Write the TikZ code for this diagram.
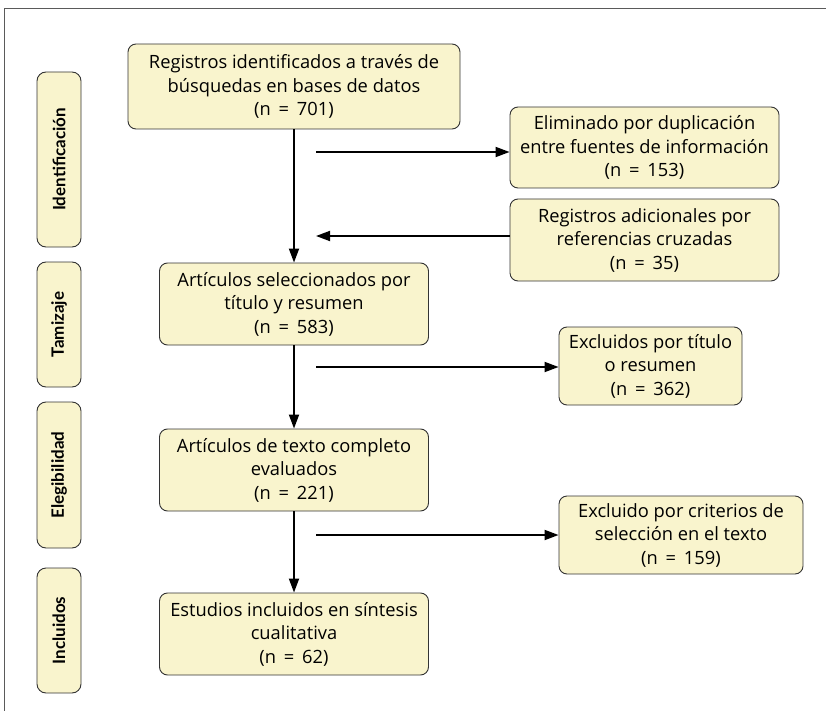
\documentclass[tikz,border=0pt]{standalone}
\usepackage{fontspec}
\setmainfont{Open Sans}
\newfontfamily\phasefont{Lato}
\usetikzlibrary{arrows.meta}
\definecolor{boxfill}{RGB}{249,244,205}
\definecolor{boxline}{RGB}{51,51,51}
\definecolor{framegray}{RGB}{90,90,90}

\begin{document}
\begin{tikzpicture}[x=1pt, y=-1pt,
  stagebox/.style={draw=boxline, fill=boxfill, rounded corners=8pt, line width=0.9pt,
    align=center, font=\fontsize{18.3}{23.5}\selectfont, inner sep=0pt},
  phasebox/.style={draw=boxline, fill=boxfill, rounded corners=9pt, line width=0.9pt,
    rotate=90, minimum height=44pt, inner sep=0pt, font=\phasefont\fontsize{17}{20}\selectfont\bfseries},
  flow/.style={-{Triangle[length=14pt,width=10pt]}, line width=1.8pt}]
\useasboundingbox (0,0) rectangle (826,711);
% Frame
\draw[framegray, line width=1pt] (4,711) -- (4,9) -- (826,9);

% Phase labels
\node[phasebox, minimum width=175pt] (ident) at (59,159.5) {Identificación};
\node[phasebox, minimum width=125pt] (tamiz) at (59,324.5) {Tamizaje};
\node[phasebox, minimum width=146pt] (elegi) at (59,475) {Elegibilidad};
\node[phasebox, minimum width=125pt] (inclu) at (59,630.5) {Incluidos};

% Main column
\node[stagebox, minimum width=332pt, minimum height=85pt] (regs) at (294,86.5) {
Registros identificados a través de\\
búsquedas en bases de datos\\
(n \,=\, 701)
};
\node[stagebox, minimum width=269pt, minimum height=82pt] (selec) at (294,304) {
Artículos seleccionados por\\
título y resumen\\
(n \,=\, 583)
};
\node[stagebox, minimum width=269pt, minimum height=82pt] (compl) at (294,470) {
Artículos de texto completo\\
evaluados\\
(n \,=\, 221)
};
\node[stagebox, minimum width=269pt, minimum height=82pt] (incl) at (294,634) {
Estudios incluidos en síntesis\\
cualitativa\\
(n \,=\, 62)
};

% Side boxes
\node[stagebox, minimum width=269pt, minimum height=81pt] (dupl) at (644.5,147.5) {
Eliminado por duplicación\\
entre fuentes de información\\
(n \,=\, 153)
};
\node[stagebox, minimum width=269pt, minimum height=82pt] (adic) at (644.5,240) {
Registros adicionales por\\
referencias cruzadas\\
(n \,=\, 35)
};
\node[stagebox, minimum width=183pt, minimum height=78pt] (excla) at (650.5,366) {
Excluidos por título\\
o resumen\\
(n \,=\, 362)
};
\node[stagebox, minimum width=244pt, minimum height=78pt] (exclb) at (681,535) {
Excluido por criterios de\\
selección en el texto\\
(n \,=\, 159)
};

% Arrow ends
\coordinate (dupl0) at (316,152);
\coordinate (adic0) at (316,236);
\coordinate (excla0) at (316,367);
\coordinate (exclb0) at (316,535);

% Arrows
\draw[flow] (regs) -- (selec);
\draw[flow] (selec) -- (compl);
\draw[flow] (compl) -- (incl);
\draw[flow] (dupl0) -- (dupl0 -| dupl.west);
\draw[flow] (adic0 -| adic.west) -- (adic0);
\draw[flow] (excla0) -- (excla0 -| excla.west);
\draw[flow] (exclb0) -- (exclb0 -| exclb.west);
\end{tikzpicture}
\end{document}
